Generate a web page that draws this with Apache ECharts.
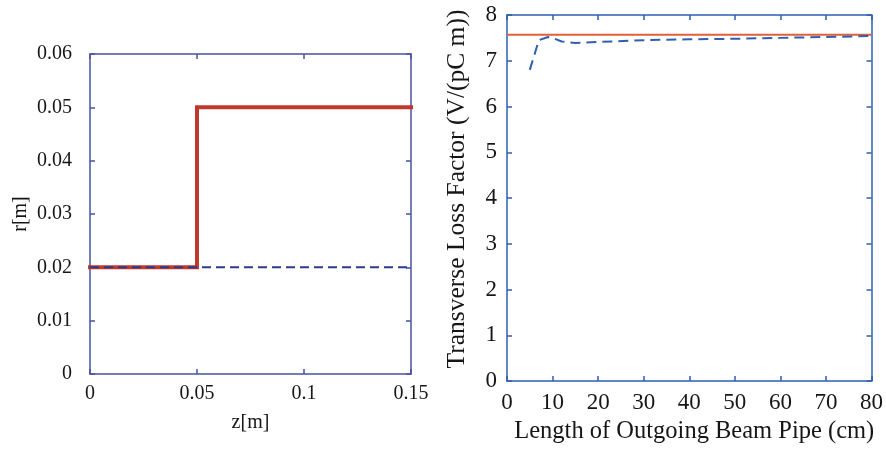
<!DOCTYPE html>
<html>
<head>
<meta charset="utf-8">
<script src="https://cdn.jsdelivr.net/npm/echarts@6/dist/echarts.min.js"></script>
<style>
  html, body { margin: 0; padding: 0; background: #fff; }
  #main { width: 886px; height: 451px; }
</style>
</head>
<body>
<div id="main"></div>
<script>
// left panel: pipe radius profile
const profileZ = [0, 0.05, 0.05, 0.15]
const profileR = [0.02, 0.02, 0.05, 0.05]
const beamZ = [0, 0.15]
const beamR = [0.02, 0.02]

// right panel: loss factor vs pipe length
const pipeLen = [5, 7, 9, 10, 12, 15, 20, 30, 40, 50, 60, 70, 80]
const lossFactor = [6.8, 7.45, 7.52, 7.5, 7.42, 7.39, 7.41, 7.45, 7.47, 7.48, 7.5, 7.52, 7.54]
const refLen = [0, 80]
const refLoss = [7.57, 7.57]

const font = 'Liberation Serif'
const ink = '#161616'
const leftFrame = '#4a52a0'
const rightFrame = '#2f5fae'

const zip = (a, b) => a.map((v, i) => [v, b[i]])

function frameAxis (grid, color, extra) {
  return Object.assign({
    type: 'value',
    gridIndex: grid,
    axisLine: { show: true, onZero: false, lineStyle: { color: color, width: 1.5 } },
    axisTick: { show: true, inside: true, length: 5, lineStyle: { color: color, width: 1.5 } },
    splitLine: { show: false },
    axisLabel: { show: false }
  }, extra)
}

const chart = echarts.init(document.getElementById('main'))
chart.setOption({
  animation: false,
  backgroundColor: '#fff',
  grid: [
    { left: 90, top: 54, width: 321, height: 320, show: false },
    { left: 507, top: 15, width: 366, height: 366, show: false }
  ],
  xAxis: [
    frameAxis(0, leftFrame, {
      min: 0, max: 0.15, interval: 0.05, position: 'bottom',
      axisLabel: { show: true, margin: 10, color: ink, fontFamily: font, fontSize: 20 },
      name: 'z[m]', nameLocation: 'middle', nameGap: 39,
      nameTextStyle: { color: ink, fontFamily: font, fontSize: 20 }
    }),
    frameAxis(0, leftFrame, { min: 0, max: 0.15, interval: 0.05, position: 'top' }),
    frameAxis(1, rightFrame, {
      min: 0, max: 80, interval: 10, position: 'bottom',
      axisLabel: { show: true, margin: 10, color: ink, fontFamily: font, fontSize: 23 },
      name: 'Length of Outgoing Beam Pipe (cm)', nameLocation: 'middle', nameGap: 37,
      nameTextStyle: { color: ink, fontFamily: font, fontSize: 24.5, padding: [0, 0, 0, 10] }
    }),
    frameAxis(1, rightFrame, { min: 0, max: 80, interval: 10, position: 'top' })
  ],
  yAxis: [
    frameAxis(0, leftFrame, {
      min: 0, max: 0.06, interval: 0.01, position: 'left',
      axisLabel: { show: true, margin: 18, color: ink, fontFamily: font, fontSize: 20 },
      name: 'r[m]', nameLocation: 'middle', nameGap: 59,
      nameTextStyle: { color: ink, fontFamily: font, fontSize: 20 }
    }),
    frameAxis(0, leftFrame, { min: 0, max: 0.06, interval: 0.01, position: 'right' }),
    frameAxis(1, rightFrame, {
      min: 0, max: 8, interval: 1, position: 'left',
      axisLabel: { show: true, margin: 10, color: ink, fontFamily: font, fontSize: 23 },
      name: 'Transverse Loss Factor (V/(pC m))', nameLocation: 'middle', nameGap: 37,
      nameTextStyle: { color: ink, fontFamily: font, fontSize: 25.5, padding: [0, 0, 0, 18] }
    }),
    frameAxis(1, rightFrame, { min: 0, max: 8, interval: 1, position: 'right' })
  ],
  series: [
    {
      type: 'line', xAxisIndex: 0, yAxisIndex: 0,
      data: zip(profileZ, profileR),
      showSymbol: false,
      lineStyle: { color: '#c0392f', width: 4, cap: 'square', join: 'miter' }
    },
    {
      type: 'line', xAxisIndex: 0, yAxisIndex: 0,
      data: zip(beamZ, beamR),
      showSymbol: false,
      lineStyle: { color: '#2e3a8c', width: 2, type: [9, 5] }
    },
    {
      type: 'line', xAxisIndex: 2, yAxisIndex: 2,
      data: zip(refLen, refLoss),
      showSymbol: false,
      lineStyle: { color: '#e0603a', width: 2 }
    },
    {
      type: 'line', xAxisIndex: 2, yAxisIndex: 2,
      data: zip(pipeLen, lossFactor),
      showSymbol: false,
      lineStyle: { color: '#2f5fae', width: 2, type: [10, 6] }
    }
  ]
})
</script>
</body>
</html>
